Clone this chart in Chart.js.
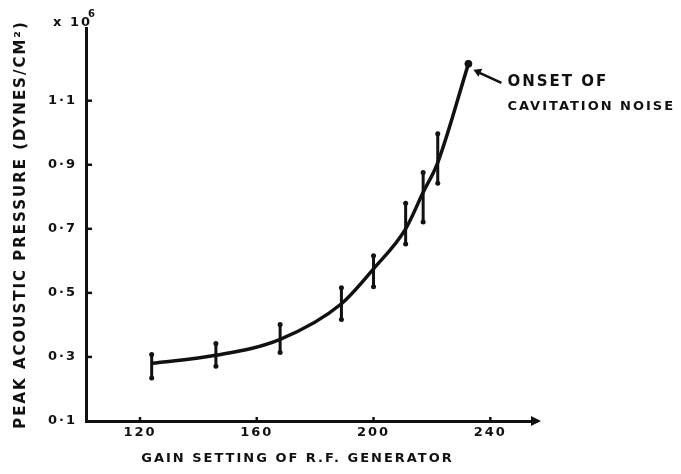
<!DOCTYPE html>
<html>
<head>
<meta charset="utf-8">
<script src="https://cdn.jsdelivr.net/npm/chart.js@4.4.1/dist/chart.umd.min.js"></script>
<style>
html, body { margin: 0; padding: 0; background: #fff; }
</style>
</head>
<body>
<canvas id="mycanvas" width="681" height="474"></canvas>
<script>
// values
var gain = [124, 146, 168, 189, 200, 211, 217, 222];
var pressure = [0.28, 0.305, 0.355, 0.466, 0.575, 0.70, 0.814, 0.907];
var errLow = [0.234, 0.271, 0.314, 0.417, 0.519, 0.653, 0.721, 0.842];
var errHigh = [0.308, 0.342, 0.401, 0.516, 0.616, 0.78, 0.876, 0.997];
var onsetGain = 232.5;
var onsetPressure = 1.215;
var xTicks = [120, 160, 200, 240];
var yTicks = [0.1, 0.3, 0.5, 0.7, 0.9, 1.1];
var xTitle = 'GAIN SETTING OF R.F. GENERATOR';

var curve = [];
var bars = [];
for (var i = 0; i < gain.length; i++) {
    curve.push({x: gain[i], y: pressure[i]});
    bars.push({x: gain[i], y: errLow[i]});
    bars.push({x: gain[i], y: errHigh[i]});
    bars.push({x: gain[i], y: null});
}
curve.push({x: onsetGain, y: onsetPressure});

var ink = '#111';
var font = '"DejaVu Sans", sans-serif';

var sketch = {
    id: 'sketch',
    beforeDraw: function(chart) {
        chart.ctx.letterSpacing = '2px';
    },
    afterDraw: function(chart) {
        var ctx = chart.ctx;
        var xs = chart.scales.x, ys = chart.scales.y;
        var a = chart.chartArea;
        ctx.save();
        ctx.strokeStyle = ink;
        ctx.fillStyle = ink;
        ctx.lineWidth = 2.5;
        // inward tick marks
        yTicks.forEach(function(v) {
            if (v == yTicks[0]) return;
            var py = ys.getPixelForValue(v);
            ctx.beginPath(); ctx.moveTo(a.left, py); ctx.lineTo(a.left + 6, py); ctx.stroke();
        });
        xTicks.forEach(function(v) {
            var px = xs.getPixelForValue(v);
            ctx.beginPath(); ctx.moveTo(px, a.bottom); ctx.lineTo(px, a.bottom - 4); ctx.stroke();
        });
        // arrow head on x axis
        ctx.beginPath();
        ctx.moveTo(a.right + 4, a.bottom);
        ctx.lineTo(a.right - 6, a.bottom - 5);
        ctx.lineTo(a.right - 6, a.bottom + 5);
        ctx.closePath(); ctx.fill();
        // x axis title, hand lettered a bit left of centre
        ctx.font = 'bold 13px ' + font;
        ctx.textAlign = 'center';
        ctx.textBaseline = 'middle';
        ctx.fillText(xTitle, (a.left + a.right) / 2 - 14, a.bottom + 38);
        // x 10^6
        ctx.textAlign = 'left';
        ctx.fillText('x 10', a.left - 33, 23);
        ctx.font = 'bold 10px ' + font;
        ctx.fillText('6', a.left + 2, 14);
        // annotation
        var px = xs.getPixelForValue(onsetGain);
        var py = ys.getPixelForValue(onsetPressure);
        ctx.lineWidth = 2.5;
        ctx.beginPath(); ctx.moveTo(px + 33, py + 19); ctx.lineTo(px + 9, py + 8); ctx.stroke();
        ctx.beginPath();
        ctx.moveTo(px + 5, py + 6);
        ctx.lineTo(px + 14, py + 5);
        ctx.lineTo(px + 10, py + 13);
        ctx.closePath(); ctx.fill();
        ctx.font = 'bold 15px ' + font;
        ctx.fillText('ONSET OF', px + 39, py + 18);
        ctx.font = 'bold 13px ' + font;
        ctx.fillText('CAVITATION NOISE', px + 39, py + 43);
        ctx.restore();
    }
};

var ctx = document.getElementById('mycanvas');
var chart = new Chart(ctx, {
    type: 'scatter',
    data: {
        datasets: [
            {
                label: 'curve',
                data: curve,
                showLine: true,
                borderColor: ink,
                borderWidth: 3.5,
                pointRadius: 0,
                cubicInterpolationMode: 'monotone'
            },
            {
                label: 'error',
                data: bars,
                showLine: true,
                spanGaps: false,
                borderColor: ink,
                borderWidth: 3,
                backgroundColor: ink,
                pointRadius: 2.5,
                pointBorderWidth: 0
            },
            {
                label: 'onset',
                data: [{x: onsetGain, y: onsetPressure}],
                backgroundColor: ink,
                borderColor: ink,
                pointRadius: 3.5
            }
        ]
    },
    options: {
        responsive: false,
        animation: false,
        devicePixelRatio: 1,
        layout: { padding: { left: 0, top: 28, right: 144, bottom: 0 } },
        plugins: { legend: { display: false }, tooltip: { enabled: false } },
        scales: {
            x: {
                type: 'linear',
                min: 101.5,
                max: 256,
                afterBuildTicks: function(s) { s.ticks = xTicks.map(function(v) { return {value: v}; }); },
                afterFit: function(s) { s.height = 53; },
                grid: { display: false, drawTicks: false },
                border: { display: true, color: ink, width: 3 },
                ticks: { color: ink, padding: 4, font: { family: font, size: 13, weight: 'bold' } },
                title: { display: false }
            },
            y: {
                type: 'linear',
                min: 0.1,
                max: 1.327,
                afterBuildTicks: function(s) { s.ticks = yTicks.map(function(v) { return {value: v}; }); },
                afterFit: function(s) { s.width = 86; },
                grid: { display: false, drawTicks: false },
                border: { display: true, color: ink, width: 3 },
                ticks: {
                    color: ink,
                    padding: 9,
                    font: { family: font, size: 13, weight: 'bold' },
                    callback: function(v) { return v.toFixed(1).replace('.', '·'); }
                },
                title: {
                    display: true,
                    text: 'PEAK ACOUSTIC PRESSURE (DYNES/CM²)',
                    color: ink,
                    padding: { top: 12, bottom: 0 },
                    font: { family: font, size: 15, weight: 'bold' }
                }
            }
        }
    },
    plugins: [sketch]
});
</script>
</body>
</html>
